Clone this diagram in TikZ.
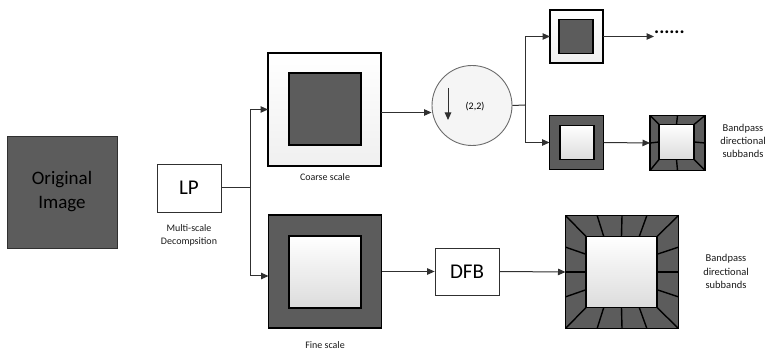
\documentclass[tikz,border=0pt]{standalone}
\usepackage{fontspec}
\setmainfont{Carlito}
\usetikzlibrary{arrows.meta,calc}
\definecolor{darkfill}{HTML}{5C5C5C}
\definecolor{lightbot}{HTML}{DCDCDC}
\definecolor{linecol}{HTML}{303030}
\begin{document}
\begin{tikzpicture}[x=1pt,y=-1pt,
  arr/.style={draw=linecol,line width=1pt,-{Triangle[length=7.5pt,width=6.5pt]}},
  conn/.style={draw=linecol,line width=1pt},
  sq/.style={draw=black,line width=1.6pt,inner sep=0pt,outer sep=0pt,minimum size=#1},
  darksq/.style={sq=#1,fill=darkfill},
  lightsq/.style={sq=#1,top color=white,bottom color=lightbot},
  palesq/.style={sq=#1,top color=white,bottom color=gray!12},
  plainbox/.style={draw=linecol,line width=0.8pt,fill=white,inner sep=0pt,minimum width=64pt,minimum height=48pt,font=\fontsize{21}{24}\selectfont},
  lbl/.style={font=\fontsize{10}{12.5}\selectfont,align=center,text=black!90},
  spoke/.style={draw=black,line width=1.4pt}
]
\useasboundingbox (0,0) rectangle (766,352);

% Original image
\node[draw=linecol,line width=0.8pt,fill=darkfill,minimum width=110pt,minimum height=112pt,inner sep=0pt,align=center,font=\fontsize{19}{24}\selectfont,text=black] (orig) at (62,192) {Original\\Image};

% LP
\node[plainbox] (lp) at (189,188) {LP};
\node[lbl] (lplbl) at (189,235.5) {Multi-scale\\Decompsition};

% Coarse
\node[palesq=113pt] (coarse) at (324.5,109.5) {};
\node[darksq=72pt] (coarsein) at (325,109) {};
\node[lbl] (coarselbl) at (325,177) {Coarse scale};

% Fine
\node[darksq=113pt] (fine) at (325,271.5) {};
\node[lightsq=72pt] (finein) at (325,272) {};
\node[lbl] (finelbl) at (325,345) {Fine scale};

% splitting
\coordinate (s1) at (250,188);
\draw[conn] (lp.east) -- (s1);
\draw[arr] (s1) |- (coarse.west);
\draw[arr] (s1) |- ([yshift=-4.5pt]fine.west);

% downsampler circle
\node[circle,draw=gray!85!black,line width=0.9pt,fill=gray!8,minimum size=80pt,inner sep=0pt] (circ) at (472,105.5) {};
\node[font=\fontsize{10}{12}\selectfont] (circtxt) at (475,107) {(2,2)};
\coordinate (dnA) at (448,88);
\coordinate (dnB) at (448,120);
\draw[arr] (dnA) -- (dnB);
\draw[arr] ([yshift=-3pt]coarse.east) -- ([yshift=-3pt]coarse.east -| circ.west);

% second split
\node[palesq=53pt] (tbox) at (576.5,36.5) {};
\node[darksq=34pt] (tboxin) at (576,36.5) {};
\node[darksq=54pt] (mbox) at (576.5,142.5) {};
\node[lightsq=34pt] (mboxin) at (577,142.5) {};
\coordinate (s2) at (525,105);
\draw[conn] (circ.east) -- (s2);
\draw[arr] (s2) |- (tbox.west);
\draw[arr] (s2) |- (mbox.west);

% dots
\node[anchor=west,inner sep=0pt,font=\fontsize{19}{19}\bfseries] (dots) at (654,32.5) {......};
\draw[arr] (tbox.east) -- (dots.west |- tbox.east);

% small directional box
\node[darksq=55pt] (sdir) at (677.5,143) {};
\node[lightsq=35pt] (sdirin) at (676.5,142) {};
\foreach \a in {north west,north east,south west,south east,north,south,east,west}
  \draw[spoke] (sdir.\a) -- (sdirin.\a);
\draw[arr] (mbox.east) -- (sdir.west);
\node[lbl,font=\fontsize{10.5}{13.3}\selectfont] (sdirlbl) at (743,141) {Bandpass\\directional\\subbands};

% DFB
\node[plainbox,minimum height=47pt] (dfb) at (467,271.5) {DFB};
\draw[arr] (fine.east |- dfb.west) -- (dfb.west);

% large directional box
\node[darksq=113pt] (ldir) at (622,272) {};
\node[lightsq=71pt] (ldirin) at (621.5,272) {};
\foreach \a in {north west,north east,south west,south east,north,south,east,west}
  \draw[spoke] (ldir.\a) -- (ldirin.\a);
\foreach \p/\q in {north west/north east,north east/south east,south east/south west,south west/north west}{
  \draw[spoke] ($(ldir.\p)!0.28!(ldir.\q)$) -- ($(ldirin.\p)!0.25!(ldirin.\q)$);
  \draw[spoke] ($(ldir.\p)!0.72!(ldir.\q)$) -- ($(ldirin.\p)!0.75!(ldirin.\q)$);
}
\draw[arr] (dfb.east) -- (ldir.west);
\node[lbl,font=\fontsize{10.5}{13.3}\selectfont] (ldirlbl) at (726,271.5) {Bandpass\\directional\\subbands};
\end{tikzpicture}
\end{document}
